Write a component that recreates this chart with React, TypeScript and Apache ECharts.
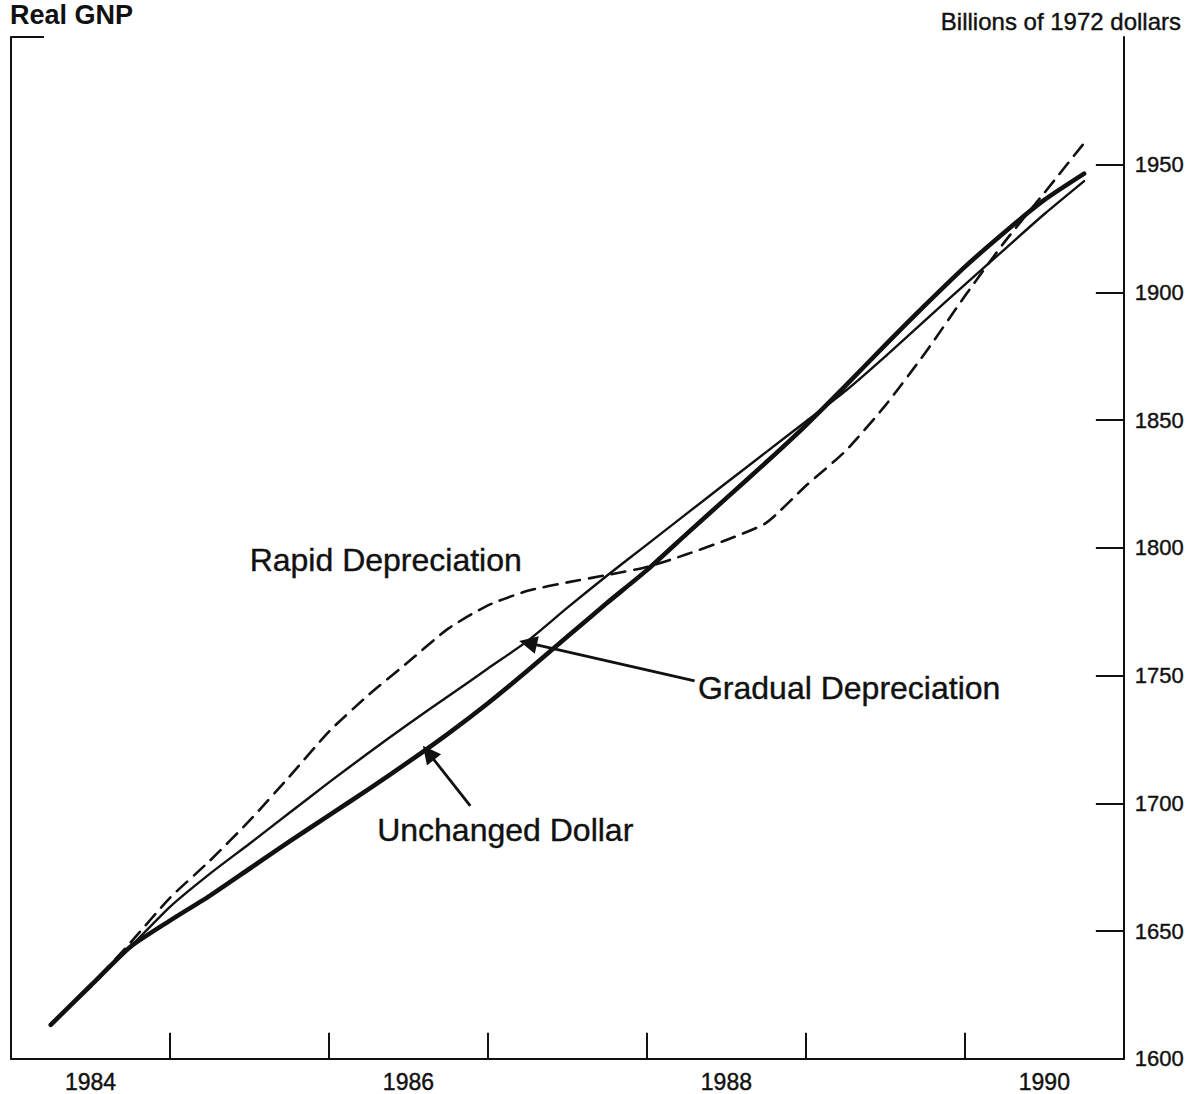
import React, { useEffect, useRef } from "react";
import * as echarts from "echarts";

const quarters = [1984.25, 1984.5, 1984.75, 1985, 1985.25, 1985.5, 1985.75, 1986, 1986.25, 1986.5, 1986.75, 1987, 1987.25, 1987.5, 1987.75, 1988, 1988.25, 1988.5, 1988.75, 1989, 1989.25, 1989.5, 1989.75, 1990, 1990.25, 1990.5, 1990.75];
const unchangedDollar = [1613.3, 1628.6, 1643.8, 1654.1, 1663.8, 1674.4, 1685.0, 1695.3, 1705.6, 1716.2, 1727.3, 1739.2, 1752.0, 1765.3, 1778.5, 1791.3, 1805.5, 1819.5, 1833.5, 1848.0, 1863.5, 1879.5, 1895.0, 1910.0, 1923.6, 1936.2, 1946.5];
const gradualDepreciation = [1613.3, 1628.6, 1643.8, 1659.5, 1672.4, 1684.2, 1696.2, 1708.2, 1719.8, 1731.1, 1741.9, 1752.8, 1763.6, 1776.6, 1789.2, 1801.3, 1813.4, 1825.5, 1837.5, 1849.5, 1861.5, 1875.0, 1889.1, 1903.1, 1916.9, 1930.7, 1943.6];
const rapidDepreciation = [1613.3, 1628.6, 1645.4, 1663.0, 1677.5, 1693.2, 1710.4, 1728.1, 1742.5, 1755.4, 1768.4, 1777.5, 1783.2, 1786.5, 1789.4, 1792.5, 1797.5, 1803.1, 1809.8, 1824.3, 1838.0, 1855.8, 1876.3, 1898.6, 1919.8, 1939.0, 1958.5];
const yearLabels = ["1984", "1985", "1986", "1987", "1988", "1989", "1990"];

const FONT = "'Liberation Sans', Arial, Helvetica, sans-serif";
const INK = "#111";

function pair(vals: number[]) {
  return quarters.map((q, i) => [q, vals[i]]);
}

export default function App() {
  const ref = useRef<HTMLDivElement>(null);
  useEffect(() => {
    if (!ref.current) return;
    const chart = echarts.init(ref.current, null, { renderer: "svg" });
    chart.setOption({
      animation: false,
      backgroundColor: "#fff",
      grid: { left: 11, right: 59, top: 37, bottom: 33 },
      xAxis: [
        {
          type: "value",
          min: 1984,
          max: 1991,
          interval: 1,
          axisLine: { show: true, lineStyle: { color: INK, width: 2 } },
          axisTick: { show: true, inside: true, length: 26, lineStyle: { color: INK, width: 2 } },
          axisLabel: { show: false },
          splitLine: { show: false },
        },
        {
          type: "category",
          position: "bottom",
          data: yearLabels,
          axisLine: { show: false },
          axisTick: { show: false },
          axisLabel: {
            interval: 0,
            margin: 12,
            color: INK,
            fontFamily: FONT,
            fontSize: 23,
            textBorderColor: INK,
            textBorderWidth: 0.4,
            formatter: (v: string) => (Number(v) % 2 === 0 ? v : ""),
          },
          splitLine: { show: false },
        },
      ],
      yAxis: [
        {
          type: "value",
          position: "left",
          min: 1600,
          max: 2000,
          interval: 50,
          axisLine: { show: true, lineStyle: { color: INK, width: 2 } },
          axisTick: { show: true, inside: true, length: 33, customValues: [2000], lineStyle: { color: INK, width: 2 } },
          axisLabel: { show: false },
          splitLine: { show: false },
        },
        {
          type: "value",
          position: "right",
          min: 1600,
          max: 2000,
          interval: 50,
          axisLine: { show: true, lineStyle: { color: INK, width: 2 } },
          axisTick: { show: true, inside: true, length: 28, lineStyle: { color: INK, width: 2 } },
          axisLabel: {
            margin: 11,
            color: INK,
            fontFamily: FONT,
            fontSize: 22,
            textBorderColor: INK,
            textBorderWidth: 0.4,
            showMaxLabel: false,
            formatter: (v: number) => (v >= 2000 ? "" : String(v)),
          },
          splitLine: { show: false },
        },
      ],
      graphic: [
        {
          type: "text",
          x: 10,
          y: 1,
          style: { text: "Real GNP", font: `bold 27px ${FONT}`, fill: INK, verticalAlign: "top", align: "left" },
        },
        {
          type: "text",
          x: 1181,
          y: 21,
          style: {
            text: "Billions of 1972 dollars",
            font: `24px ${FONT}`,
            fill: INK,
            stroke: INK,
            lineWidth: 0.4,
            verticalAlign: "middle",
            align: "right",
          },
        },
      ],
      series: [
        {
          name: "Rapid Depreciation",
          type: "line",
          xAxisIndex: 0,
          yAxisIndex: 1,
          data: pair(rapidDepreciation),
          showSymbol: false,
          smooth: 0.2,
          lineStyle: { color: INK, width: 2.6, type: [14, 9], cap: "round", join: "round" },
          silent: true,
        },
        {
          name: "Gradual Depreciation",
          type: "line",
          xAxisIndex: 0,
          yAxisIndex: 1,
          data: pair(gradualDepreciation),
          showSymbol: false,
          smooth: 0.2,
          lineStyle: { color: INK, width: 2.4, cap: "round", join: "round" },
          silent: true,
          markLine: {
            silent: true,
            symbol: ["none", "triangle"],
            symbolSize: 18,
            label: { show: false },
            lineStyle: { color: INK, width: 2.8, type: "solid" },
            emphasis: { disabled: true },
            data: [
              [{ coord: [1988.3, 1747.9] }, { coord: [1987.252, 1762.8] }],
              [{ coord: [1986.889, 1699.0] }, { coord: [1986.626, 1719.8] }],
            ],
          },
          markPoint: {
            silent: true,
            symbol: "rect",
            symbolSize: 1,
            itemStyle: { color: "rgba(0,0,0,0)" },
            label: {
              show: true,
              position: "right",
              distance: 0,
              color: INK,
              fontFamily: FONT,
              fontSize: 32,
              textBorderColor: INK,
              textBorderWidth: 0.4,
              formatter: "{b}",
            },
            data: [
              { name: "Rapid Depreciation", coord: [1985.498, 1795.3] },
              { name: "Gradual Depreciation", coord: [1988.318, 1745.2] },
              { name: "Unchanged Dollar", coord: [1986.3, 1689.6] },
            ],
          },
        },
        {
          name: "Unchanged Dollar",
          type: "line",
          xAxisIndex: 0,
          yAxisIndex: 1,
          data: pair(unchangedDollar),
          showSymbol: false,
          smooth: 0.2,
          lineStyle: { color: INK, width: 4.6, cap: "round", join: "round" },
          silent: true,
        },
      ],
    });
    return () => chart.dispose();
  }, []);
  return (
    <div
      ref={ref}
      style={{ position: "absolute", left: 0, top: 0, width: 1187, height: 1094, background: "#fff" }}
    />
  );
}
